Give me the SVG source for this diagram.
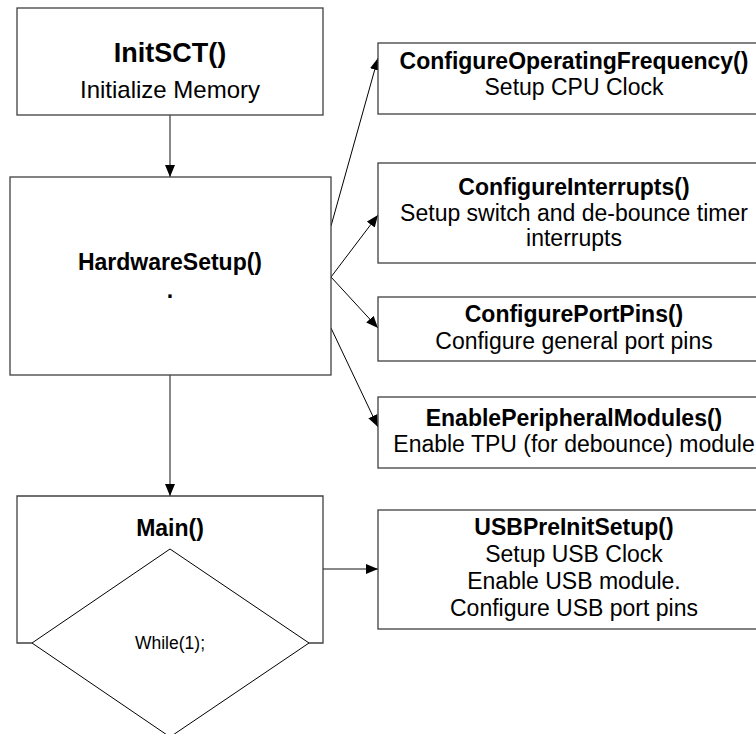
<svg xmlns="http://www.w3.org/2000/svg" width="756" height="734" viewBox="0 0 756 734">
<style>
.box{fill:#fff;stroke:#404040;stroke-width:1.3}
.t{font-family:"Liberation Sans",Arial,sans-serif;font-size:23px;fill:#000;text-anchor:middle}
.b{font-weight:bold}
.c{fill:none;stroke:#000;stroke-width:1}
.v{fill:none;stroke:#606060;stroke-width:1.5}
</style>
<defs>
<marker id="ah" markerUnits="userSpaceOnUse" markerWidth="13" markerHeight="11" refX="12" refY="5" orient="auto">
<path d="M0,0 L12,5 L0,10 z" fill="#000"/>
</marker>
</defs>
<rect width="756" height="734" fill="#fff"/>
<g id="connectors">
<line class="v" x1="170" y1="115" x2="170" y2="177" marker-end="url(#ah)"/>
<line class="v" x1="170" y1="375" x2="170" y2="496" marker-end="url(#ah)"/>
<line class="c" x1="331" y1="226" x2="378" y2="58" marker-end="url(#ah)"/>
<line class="c" x1="331" y1="277" x2="378" y2="215" marker-end="url(#ah)"/>
<line class="c" x1="331" y1="277" x2="378" y2="328" marker-end="url(#ah)"/>
<line class="c" x1="331" y1="328" x2="378" y2="427" marker-end="url(#ah)"/>
<line class="v" x1="323" y1="569" x2="378" y2="569" marker-end="url(#ah)"/>
</g>
<g id="initsct">
<rect class="box" x="17" y="8" width="306" height="107"/>
<text class="t b" x="170" y="62" style="font-size:27px">InitSCT()</text>
<text class="t" x="170" y="98" style="font-size:24px">Initialize Memory</text>
</g>
<g id="hardwaresetup">
<rect class="box" x="10" y="177" width="321" height="198"/>
<text class="t b" x="170" y="270">HardwareSetup()</text>
<text class="t b" x="170" y="298">.</text>
</g>
<g id="configfreq">
<rect class="box" x="378" y="43" width="392" height="71"/>
<text class="t b" x="574" y="69">ConfigureOperatingFrequency()</text>
<text class="t" x="574" y="95">Setup CPU Clock</text>
</g>
<g id="configint">
<rect class="box" x="378" y="163" width="392" height="100"/>
<text class="t b" x="574" y="195">ConfigureInterrupts()</text>
<text class="t" x="574" y="221">Setup switch and de-bounce timer</text>
<text class="t" x="574" y="246">interrupts</text>
</g>
<g id="configpins">
<rect class="box" x="378" y="297" width="392" height="64"/>
<text class="t b" x="574" y="322">ConfigurePortPins()</text>
<text class="t" x="574" y="349">Configure general port pins</text>
</g>
<g id="enableperiph">
<rect class="box" x="378" y="397" width="392" height="71"/>
<text class="t b" x="574" y="426">EnablePeripheralModules()</text>
<text class="t" x="574" y="452">Enable TPU (for debounce) module</text>
</g>
<g id="usbpreinit">
<rect class="box" x="378" y="510" width="392" height="119"/>
<text class="t b" x="574" y="535">USBPreInitSetup()</text>
<text class="t" x="574" y="562">Setup USB Clock</text>
<text class="t" x="574" y="589">Enable USB module.</text>
<text class="t" x="574" y="616">Configure USB port pins</text>
</g>
<g id="main">
<path d="M32,643 L17,643 L17,496 L323,496 L323,643 L309,643" fill="none" stroke="#404040" stroke-width="1.3"/>
<polygon points="170,549 309,643 170,737 32,643" fill="#fff" stroke="#000" stroke-width="1"/>
<text class="t b" x="170" y="536">Main()</text>
<text class="t" x="170" y="649" style="font-size:17.5px">While(1);</text>
</g>
</svg>
